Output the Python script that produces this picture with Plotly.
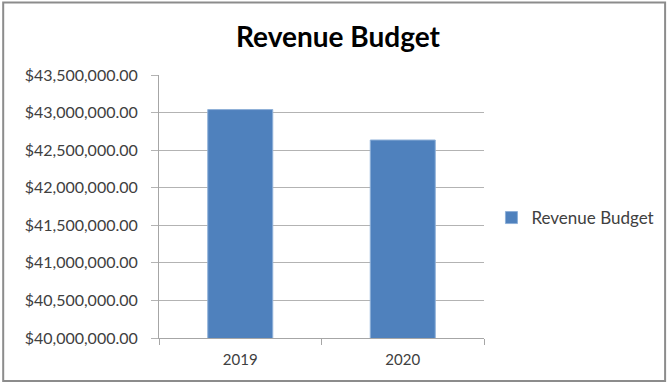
import plotly.graph_objects as go

# Data
years = ["2019", "2020"]
revenue_budget = [43040000, 42635000]
series_name = "Revenue Budget"

W, H = 671, 383
# plot area in pixels
PL, PR, PT, PB = 159, 486.5, 75, 338

fig = go.Figure()
fig.add_trace(go.Bar(
    x=years, y=revenue_budget, name=series_name,
    marker=dict(color="#4F81BD", line=dict(color="#8eb0d8", width=1)),
    showlegend=True,
))

pw, ph = PR - PL, PB - PT


def px_to_paper(x, y):
    return (x - PL) / pw, (PB - y) / ph


bx0, by0 = px_to_paper(2, 381)
bx1, by1 = px_to_paper(669, 2.5)

font_fam = "Lato, 'Open Sans', sans-serif"

fig.update_layout(
    width=W, height=H,
    margin=dict(l=PL, r=W - PR, t=PT, b=H - PB, pad=0),
    paper_bgcolor="white", plot_bgcolor="white",
    bargap=0.6,
    title=dict(text="<b>Revenue Budget</b>", x=338 / W, xanchor="center",
               y=1 - 37 / H, yanchor="middle",
               font=dict(family=font_fam, size=28, color="black")),
    xaxis=dict(
        type="category", showgrid=False, showline=True, linecolor="#a6a6a6", linewidth=1,
        ticks="outside", tickson="boundaries", ticklen=6, tickcolor="#a6a6a6",
        tickfont=dict(family=font_fam, size=15, color="#404040"),
        ticklabelstandoff=8,
        fixedrange=True,
    ),
    yaxis=dict(
        range=[40000000, 43500000], dtick=500000, tick0=40000000,
        tickprefix="$", tickformat=",.2f",
        showgrid=True, gridcolor="#b3b3b3", gridwidth=1,
        showline=True, linecolor="#a6a6a6", linewidth=1,
        ticks="outside", ticklen=7, tickcolor="#b3b3b3",
        tickfont=dict(family=font_fam, size=16, color="#404040"),
        ticklabelstandoff=10,
        zeroline=False, fixedrange=True,
    ),
    legend=dict(x=(494 - PL) / pw, y=(PB - 218) / ph, xanchor="left", yanchor="middle",
                font=dict(family=font_fam, size=17, color="#404040"),
                itemwidth=30, bgcolor="rgba(0,0,0,0)"),
    shapes=[dict(type="rect", xref="paper", yref="paper",
                 x0=bx0, y0=by0, x1=bx1, y1=by1,
                 line=dict(color="#8c8c8c", width=2), fillcolor="rgba(0,0,0,0)", layer="below")],
)

fig.write_html("out.html", config={"displayModeBar": False})
